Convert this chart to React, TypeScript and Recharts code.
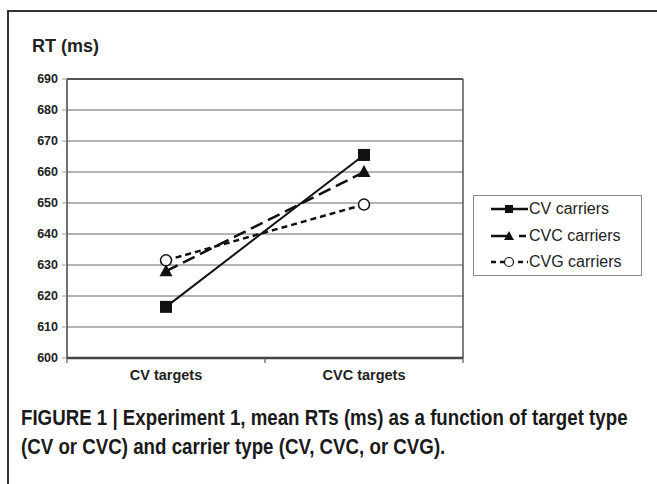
import React from "react";
import { LineChart, Line, XAxis, YAxis, CartesianGrid, ReferenceLine } from "recharts";

const categories = ["CV targets", "CVC targets"];
const cvCarriers = [616.5, 665.5];
const cvcCarriers = [628, 660];
const cvgCarriers = [631.5, 649.5];
const yTicks = [600, 610, 620, 630, 640, 650, 660, 670, 680, 690];
const seriesNames = ["CV carriers", "CVC carriers", "CVG carriers"];

const data = categories.map((c, i) => ({
  x: i + 0.5,
  name: c,
  cv: cvCarriers[i],
  cvc: cvcCarriers[i],
  cvg: cvgCarriers[i],
}));

const FONT = "'Liberation Sans', Arial, Helvetica, sans-serif";

const SquareDot = (props: any) => {
  const { cx, cy, index } = props;
  return <rect key={`sq-${index}`} x={cx - 6} y={cy - 6} width={12} height={12} fill="#111" />;
};
const TriDot = (props: any) => {
  const { cx, cy, index } = props;
  return (
    <polygon
      key={`tr-${index}`}
      points={`${cx},${cy - 7} ${cx + 6.5},${cy + 5} ${cx - 6.5},${cy + 5}`}
      fill="#111"
    />
  );
};
const CircDot = (props: any) => {
  const { cx, cy, index } = props;
  return <circle key={`ci-${index}`} cx={cx} cy={cy} r={5.5} fill="#fff" stroke="#111" strokeWidth={1.5} />;
};

const XTick = (props: any) => {
  const { x, y, payload } = props;
  const v = payload.value;
  if (Math.abs(v - Math.round(v)) < 1e-6) {
    return <line x1={x} x2={x} y1={y} y2={y + 5} stroke="#555" strokeWidth={1.2} />;
  }
  return (
    <text
      x={x}
      y={y + 12}
      dy="0.71em"
      textAnchor="middle"
      fill="#222"
      fontFamily={FONT}
      fontWeight="bold"
      fontSize={14.5}
    >
      {categories[Math.floor(v)]}
    </text>
  );
};

const LegendBox = () => {
  return (
    <div
      style={{
        position: "absolute",
        left: 473,
        top: 195,
        width: 169,
        height: 81,
        border: "1px solid #888",
        background: "#fff",
        boxSizing: "border-box",
      }}
    >
      {seriesNames.map((name, i) => (
        <div
          key={name}
          style={{ position: "absolute", left: 15, top: 3 + i * 26.5, height: 20, display: "flex", alignItems: "center" }}
        >
          <svg width={40} height={20}>
            {i === 0 && (
              <g>
                <line x1={2} x2={39} y1={10} y2={10} stroke="#111" strokeWidth={2.5} />
                <rect x={16} y={6} width={8} height={8} fill="#111" />
              </g>
            )}
            {i === 1 && (
              <g>
                <line x1={2} x2={20} y1={10} y2={10} stroke="#111" strokeWidth={2.5} />
                <polygon points="20,5 25,14 15,14" fill="#111" />
                <line x1={30} x2={37} y1={10} y2={10} stroke="#111" strokeWidth={2.5} />
              </g>
            )}
            {i === 2 && (
              <g>
                <line x1={2} x2={39} y1={10} y2={10} stroke="#111" strokeWidth={2.5} strokeDasharray="5 4" />
                <circle cx={20} cy={10} r={4.5} fill="#fff" stroke="#111" strokeWidth={1.2} />
              </g>
            )}
          </svg>
          <span style={{ fontFamily: FONT, fontSize: 16, color: "#222", whiteSpace: "nowrap" }}>{name}</span>
        </div>
      ))}
    </div>
  );
};

export default function App() {
  return (
    <div style={{ position: "absolute", left: 0, top: 0, width: 657, height: 484, background: "#fff", overflow: "hidden" }}>
      <div
        style={{
          position: "absolute",
          left: 7,
          top: 10,
          width: 720,
          height: 520,
          border: "2px solid #333",
          boxSizing: "border-box",
        }}
      />
      <div
        style={{
          position: "absolute",
          left: 32,
          top: 36,
          fontFamily: FONT,
          fontSize: 18,
          fontWeight: "bold",
          color: "#222",
          whiteSpace: "nowrap",
          lineHeight: "21px",
        }}
      >
        RT (ms)
      </div>
      <div style={{ position: "absolute", left: 0, top: 0 }}>
        <LineChart width={657} height={484} data={data} margin={{ top: 79, right: 194, bottom: 96, left: 0 }}>
          <CartesianGrid vertical={false} stroke="#9a9a9a" strokeWidth={1.3} />
          <XAxis
            dataKey="x"
            type="number"
            domain={[0, 2]}
            ticks={[0, 0.5, 1, 1.5, 2]}
            tickLine={false}
            tickSize={0}
            tickMargin={0}
            tick={<XTick />}
            axisLine={{ stroke: "#444", strokeWidth: 2.5 }}
            height={30}
            interval={0}
          />
          <YAxis
            type="number"
            domain={[600, 690]}
            ticks={yTicks}
            width={67}
            interval={0}
            axisLine={{ stroke: "#444", strokeWidth: 1.5 }}
            tickLine={{ stroke: "#999" }}
            tickSize={5}
            tickMargin={4}
            tick={{ fill: "#222", fontFamily: FONT, fontSize: 12.5, fontWeight: "bold" }}
          />
          <ReferenceLine y={690} stroke="#555" strokeWidth={2} />
          <ReferenceLine x={2} stroke="#555" strokeWidth={1.5} />
          <Line
            name={seriesNames[0]}
            dataKey="cv"
            stroke="#111"
            strokeWidth={2}
            dot={SquareDot}
            isAnimationActive={false}
          />
          <Line
            name={seriesNames[1]}
            dataKey="cvc"
            stroke="#111"
            strokeWidth={2.5}
            strokeDasharray="13 6"
            dot={TriDot}
            isAnimationActive={false}
          />
          <Line
            name={seriesNames[2]}
            dataKey="cvg"
            stroke="#111"
            strokeWidth={2.5}
            strokeDasharray="6 4"
            dot={CircDot}
            isAnimationActive={false}
          />
        </LineChart>
      </div>
      <LegendBox />
      <div
        style={{
          position: "absolute",
          left: 21,
          top: 403,
          fontFamily: FONT,
          fontWeight: "bold",
          fontSize: 22,
          lineHeight: "29px",
          color: "#1a1a1a",
          whiteSpace: "nowrap",
          transform: "scaleX(0.85)",
          transformOrigin: "0 0",
        }}
      >
        <div>FIGURE 1 | Experiment 1, mean RTs (ms) as a function of target type</div>
        <div>(CV or CVC) and carrier type (CV, CVC, or CVG).</div>
      </div>
    </div>
  );
}
